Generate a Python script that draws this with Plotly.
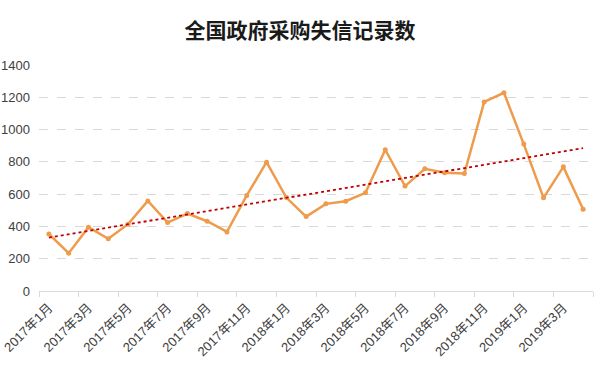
import numpy as np
import plotly.graph_objects as go

months = [f"{y}年{m}月" for y, ms in ((2017, range(1, 13)), (2018, range(1, 13)), (2019, range(1, 5))) for m in ms]
values = [353, 234, 395, 323, 414, 558, 424, 480, 432, 366, 592, 798, 579, 461,
          540, 556, 608, 875, 650, 757, 732, 728, 1171, 1228, 910, 577, 769, 507]
yticks = [0, 200, 400, 600, 800, 1000, 1200, 1400]

x = np.arange(len(values))
coef = np.polyfit(x, values, 1)
trend = np.polyval(coef, x)

font_family = "Liberation Sans, Noto Sans CJK SC, sans-serif"

fig = go.Figure()
fig.add_trace(go.Scatter(
    x=x, y=values, mode="lines+markers",
    line=dict(color="#EE9B4C", width=2.5),
    marker=dict(size=5, color="#EE9B4C"),
    showlegend=False, hoverinfo="skip"))
fig.add_trace(go.Scatter(
    x=x, y=trend, mode="lines",
    line=dict(color="#C00000", width=1.8, dash="dot"),
    showlegend=False, hoverinfo="skip"))

fig.update_layout(
    width=600, height=392,
    paper_bgcolor="white", plot_bgcolor="white",
    margin=dict(l=39, r=7, t=65, b=101),
    title=dict(text="<b>全国政府采购失信记录数</b>", x=0.5, xanchor="center",
               y=1 - 31 / 392, yanchor="middle",
               font=dict(family="Noto Sans CJK SC, sans-serif", size=21, color="#1a1a1a")),
    font=dict(family=font_family, color="#595959", size=12),
    xaxis=dict(
        automargin=False,
        range=[-0.5, len(values) - 0.5],
        tickmode="array",
        tickvals=list(x[::2]),
        ticktext=months[::2],
        tickangle=-45,
        ticks="",
        ticklabeloverflow="allow",
        showgrid=False, zeroline=False,
        showline=True, linecolor="#D9D9D9", linewidth=1,
        tickfont=dict(size=13, color="#404040", family=font_family),
        ticklabelstandoff=3,
        minor=dict(tick0=-0.5, dtick=2, ticks="outside", ticklen=5,
                   tickcolor="#D9D9D9", showgrid=False),
    ),
    yaxis=dict(
        automargin=False,
        range=[0, 1400],
        tickmode="array", tickvals=yticks,
        showgrid=True, gridcolor="#D9D9D9", griddash="dash", gridwidth=1,
        zeroline=False, showline=False,
        tickfont=dict(size=13, color="#404040", family=font_family),
        ticklabelstandoff=8,
        ticklabeloverflow="allow",
    ),
)

fig.write_html("out.html",
               config={"displayModeBar": False},
               post_script="document.body.style.margin='0';document.body.style.padding='0';")
